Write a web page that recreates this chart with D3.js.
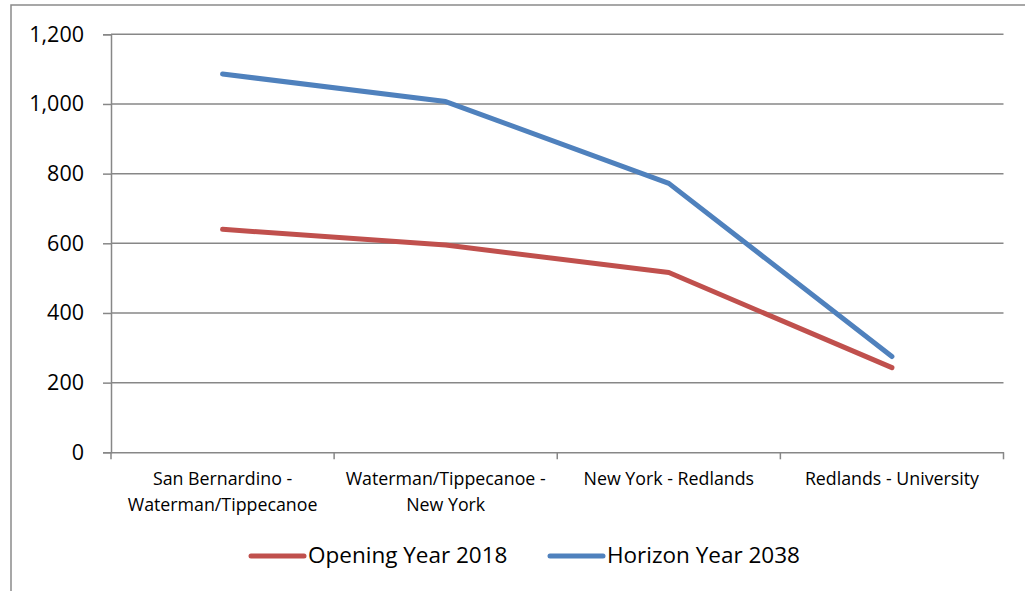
<!DOCTYPE html>
<html><head><meta charset="utf-8">
<script src="https://cdn.jsdelivr.net/npm/d3@7/dist/d3.min.js"></script>
<style>
html,body{margin:0;padding:0;background:#fff;}
svg{display:block;font-family:"Open Sans",sans-serif;}
</style></head>
<body><svg id="c" width="1025" height="591"></svg>
<script>
const categories = [["San Bernardino -","Waterman/Tippecanoe"],["Waterman/Tippecanoe -","New York"],["New York - Redlands"],["Redlands - University"]];
const seriesNames = ["Opening Year 2018","Horizon Year 2038"];
const opening2018 = [640, 595, 516, 243];
const horizon2038 = [1086, 1007, 772, 275];
const yTicks = [0,200,400,600,800,1000,1200];
const colors = ["#C0504D","#4F81BD"];

(function(){
const svg = d3.select("#c");
const pL = 111, pR = 1003.5, pT = 34.3, pB = 452.3;

// outer border
svg.append("rect").attr("x",11).attr("y",5).attr("width",1030).attr("height",600)
  .attr("fill","none").attr("stroke","#8a8a8a").attr("stroke-width",1.5);

const x = d3.scaleBand().domain(d3.range(categories.length)).range([pL,pR]).padding(0);
const y = d3.scaleLinear().domain([0,1200]).range([pB,pT]);

// gridlines
svg.append("g").selectAll("line").data(yTicks.filter(d=>d>0)).join("line")
  .attr("x1",pL).attr("x2",pR).attr("y1",d=>y(d)).attr("y2",d=>y(d))
  .attr("stroke","#878787").attr("stroke-width",1.5);

// y axis
const yAxis = svg.append("g").attr("transform",`translate(${pL},0)`)
  .call(d3.axisLeft(y).tickValues(yTicks).tickFormat(d3.format(",")).tickSize(8).tickPadding(19));
yAxis.select(".domain").attr("stroke","#878787").attr("stroke-width",1.5);
yAxis.selectAll(".tick line").attr("stroke","#878787").attr("stroke-width",1.5);
yAxis.selectAll(".tick text").attr("font-size",21.5).attr("font-family","'Open Sans',sans-serif").attr("fill","#000");

// x axis
const xAxis = svg.append("g").attr("transform",`translate(0,${pB})`)
  .call(d3.axisBottom(x).tickSize(0).tickFormat(""));
xAxis.select(".domain").attr("stroke","#878787").attr("stroke-width",1.5);
xAxis.selectAll(".tick").remove();
const bounds = d3.range(categories.length+1).map(i=> i<categories.length ? x(i) : x(i-1)+x.bandwidth());
svg.append("g").selectAll("line").data(bounds).join("line")
  .attr("x1",d=>d).attr("x2",d=>d).attr("y1",pB).attr("y2",pB+7)
  .attr("stroke","#878787").attr("stroke-width",1.5);

const catG = svg.append("g");
categories.forEach((lines,i)=>{
  const t = catG.append("text").attr("x",x(i)+x.bandwidth()/2).attr("y",485)
    .attr("text-anchor","middle").attr("font-size",17.8).attr("fill","#000");
  lines.forEach((l,j)=>t.append("tspan").attr("x",x(i)+x.bandwidth()/2).attr("dy",j?26:0).text(l));
});

// lines
const line = d3.line().x((d,i)=>x(i)+x.bandwidth()/2).y(d=>y(d));
[opening2018,horizon2038].forEach((s,k)=>{
  svg.append("path").datum(s).attr("d",line).attr("fill","none")
    .attr("stroke",colors[k]).attr("stroke-width",5).attr("stroke-linecap","round").attr("stroke-linejoin","round");
});

// legend
const legX = [251, 550];
seriesNames.forEach((n,k)=>{
  svg.append("line").attr("x1",legX[k]).attr("x2",legX[k]+53).attr("y1",556).attr("y2",556)
    .attr("stroke",colors[k]).attr("stroke-width",5).attr("stroke-linecap","round");
  svg.append("text").attr("x",legX[k]+57).attr("y",563).attr("font-size",22.5).attr("fill","#000").text(n);
});
})();
</script></body></html>
